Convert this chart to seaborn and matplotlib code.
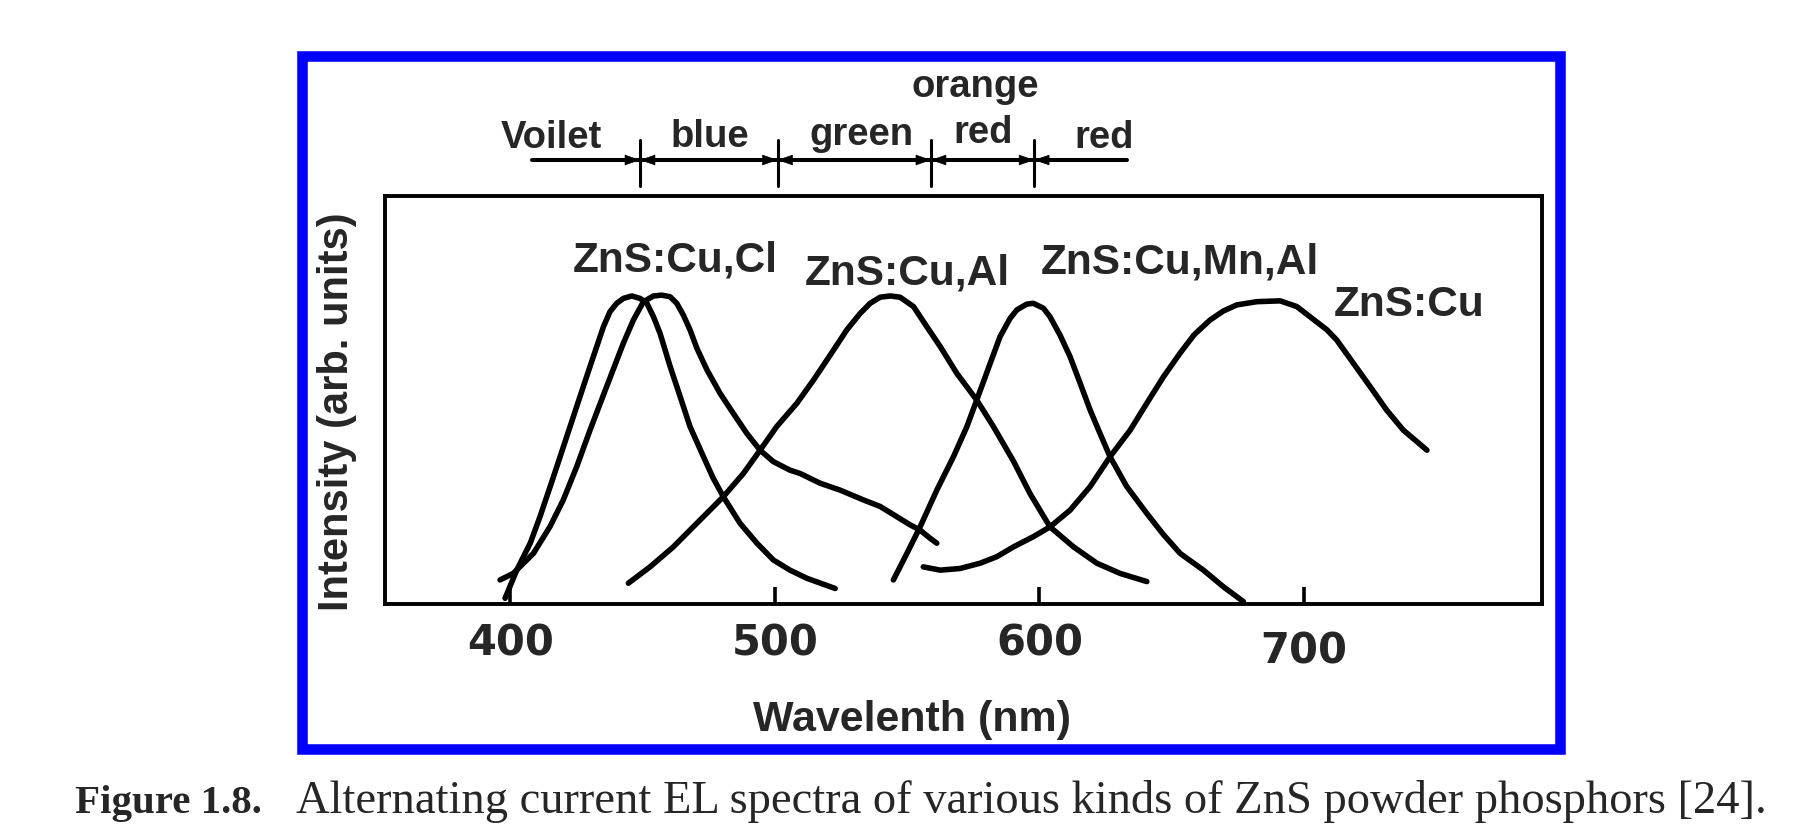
import numpy as np
import pandas as pd
import matplotlib
matplotlib.use("Agg")
import matplotlib.pyplot as plt
import matplotlib.patches as mpatches
import matplotlib.transforms as mtransforms
import seaborn as sns

# ---------------- data ----------------
wl_cucl_a = [398.0, 402.4, 407.5, 411.2, 416.3, 421.3, 426.3, 430.1, 435.2, 437.7, 440.2,
             442.7, 445.9, 449.0, 451.6, 454.1, 456.6, 460.4, 464.2, 467.9, 473.0, 476.7,
             480.5, 486.8, 493.2, 499.4, 505.7, 512.1, 522.8]
int_cucl_a = [0.014, 0.083, 0.149, 0.214, 0.312, 0.410, 0.508, 0.582, 0.680, 0.717, 0.737,
              0.749, 0.755, 0.749, 0.737, 0.704, 0.663, 0.582, 0.508, 0.435, 0.361, 0.308,
              0.263, 0.198, 0.149, 0.108, 0.083, 0.063, 0.038]

wl_cucl_b = [396.1, 401.1, 408.7, 415.0, 420.0, 425.1, 430.1, 436.4, 442.7, 446.5, 450.3,
             454.1, 457.2, 460.4, 462.9, 465.4, 467.9, 470.5, 474.3, 479.3, 484.3, 489.4,
             494.4, 499.4, 505.7, 509.5, 517.1, 524.7, 533.5, 539.8, 546.1, 551.1, 554.9,
             558.7, 561.2]
int_cucl_b = [0.059, 0.075, 0.124, 0.190, 0.255, 0.337, 0.426, 0.533, 0.639, 0.696, 0.741,
              0.755, 0.757, 0.753, 0.737, 0.708, 0.672, 0.627, 0.574, 0.516, 0.467, 0.418,
              0.377, 0.349, 0.328, 0.320, 0.296, 0.279, 0.255, 0.239, 0.214, 0.194, 0.181,
              0.161, 0.149]

wl_cual = [444.6, 452.8, 461.6, 470.5, 480.5, 488.1, 494.4, 500.7, 508.3, 514.6, 520.9,
           527.2, 532.2, 536.0, 539.8, 543.6, 547.3, 552.4, 557.4, 562.5, 568.8, 576.3,
           582.6, 590.2, 596.5, 604.0, 612.9, 621.7, 630.5, 640.6]
int_cual = [0.051, 0.091, 0.140, 0.198, 0.263, 0.320, 0.377, 0.435, 0.492, 0.549, 0.610,
            0.672, 0.712, 0.737, 0.752, 0.755, 0.752, 0.729, 0.680, 0.631, 0.565, 0.500,
            0.435, 0.350, 0.270, 0.189, 0.140, 0.100, 0.075, 0.055]

wl_cumnal = [544.8, 549.9, 554.9, 561.2, 567.5, 572.6, 576.3, 581.4, 585.1, 588.9, 591.5,
             595.2, 597.7, 601.5, 604.0, 607.8, 611.6, 615.4, 619.2, 622.9, 626.7, 633.0,
             640.6, 646.9, 653.2, 662.0, 669.6, 677.1]
int_cumnal = [0.059, 0.124, 0.189, 0.279, 0.361, 0.435, 0.500, 0.590, 0.655, 0.700, 0.721,
              0.735, 0.737, 0.725, 0.704, 0.659, 0.606, 0.541, 0.475, 0.418, 0.361, 0.288,
              0.222, 0.170, 0.124, 0.083, 0.042, 0.006]

wl_cu = [556.1, 562.5, 570.0, 577.6, 583.9, 590.2, 597.7, 604.0, 611.6, 619.2, 626.7,
         634.3, 640.6, 646.9, 653.2, 658.5, 664.5, 669.5, 674.6, 682.2, 691.0, 697.3,
         702.3, 708.7, 712.4, 718.7, 725.0, 731.3, 737.6, 742.7, 746.5]
int_cu = [0.091, 0.083, 0.087, 0.100, 0.116, 0.140, 0.165, 0.189, 0.230, 0.288, 0.361,
          0.426, 0.492, 0.557, 0.615, 0.660, 0.696, 0.718, 0.733, 0.741, 0.743, 0.729,
          0.704, 0.672, 0.647, 0.590, 0.533, 0.475, 0.426, 0.398, 0.377]

series_names = ["ZnS:Cu,Cl (a)", "ZnS:Cu,Cl (b)", "ZnS:Cu,Al", "ZnS:Cu,Mn,Al", "ZnS:Cu"]

curve_labels = ["ZnS:Cu,Cl", "ZnS:Cu,Al", "ZnS:Cu,Mn,Al", "ZnS:Cu"]
curve_label_wl = [462.2, 550.0, 653.2, 739.8]
curve_label_int = [0.816, 0.782, 0.811, 0.706]

x_ticks = [400, 500, 600, 700]
x_ticklabels = ["400", "500", "600", "700"]

band_edges = [449, 501, 559, 598]
band_span = [408, 633]
band_texts = ["Voilet", "blue", "green", "orange", "red", "red"]
band_text_wl = [415.4, 475.5, 532.6, 575.7, 578.7, 624.5]
band_text_y = [1.1176, 1.1201, 1.125, 1.2426, 1.1299, 1.1176]

x_label = "Wavelenth (nm)"
y_label = "Intensity (arb. units)"
caption_bold = "Figure 1.8."
caption_text = "Alternating current EL spectra of various kinds of ZnS powder phosphors [24]."

# ---------------- build long-form table ----------------
frames = []
for name, wl, it in zip(series_names,
                        [wl_cucl_a, wl_cucl_b, wl_cual, wl_cumnal, wl_cu],
                        [int_cucl_a, int_cucl_b, int_cual, int_cumnal, int_cu]):
    frames.append(pd.DataFrame({"wavelength": wl, "intensity": it, "sample": name}))
df = pd.concat(frames, ignore_index=True)

# ---------------- figure ----------------
sns.set_style("white")
plt.rcParams["font.family"] = ["Liberation Sans", "DejaVu Sans"]

W, H = 1814, 839
fig = plt.figure(figsize=(W / 100, H / 100), dpi=100)
ax = fig.add_axes([385 / W, 1 - 604 / H, (1542 - 385) / W, (604 - 196) / H])

sns.lineplot(data=df, x="wavelength", y="intensity", hue="sample",
             palette={n: "black" for n in series_names}, estimator=None, sort=False,
             legend=False, lw=4.0, ax=ax, solid_capstyle="round", solid_joinstyle="round")

ax.set_xlim(352.6, 790)
ax.set_ylim(0, 1)
ax.set_xlabel("")
ax.set_ylabel("")
ax.set_yticks([])
ax.set_xticks(x_ticks)
ax.set_xticklabels(x_ticklabels, fontfamily="DejaVu Sans", fontweight="bold", fontsize=30)
ax.tick_params(axis="x", direction="in", length=12, width=2.6, color="black",
               pad=13, bottom=True, top=False)
for sp in ax.spines.values():
    sp.set_color("black")
    sp.set_linewidth(2.8)
# the 700 label sits a little lower in the reference
lab700 = ax.get_xticklabels()[3]
lab700.set_transform(lab700.get_transform() +
                     mtransforms.ScaledTranslation(0, -8 / 100, fig.dpi_scale_trans))

# curve labels
for txt, xw, yi in zip(curve_labels, curve_label_wl, curve_label_int):
    ax.text(xw, yi, txt, ha="center", va="baseline", fontsize=30.5, fontweight="bold")

# colour band above the plot
trans = mtransforms.blended_transform_factory(ax.transData, ax.transAxes)
yline = 1.0882
ax.plot(band_span, [yline, yline], color="black", lw=2.9, transform=trans, clip_on=False)
for e in band_edges:
    ax.plot([e, e], [1.0245, 1.1373], color="black", lw=2.2, transform=trans, clip_on=False)
    for side in (-1, 1):
        ax.annotate("", xy=(e, yline), xytext=(e + side * 7, yline),
                    xycoords=trans, textcoords=trans,
                    arrowprops=dict(arrowstyle="-|>,head_length=1.0,head_width=0.35",
                                    color="black", lw=0.5, shrinkA=0, shrinkB=0,
                                    mutation_scale=10),
                    annotation_clip=False)
for txt, xw, yy in zip(band_texts, band_text_wl, band_text_y):
    ax.text(xw, yy, txt, transform=trans, ha="center", va="baseline",
            fontsize=27.5, fontweight="bold", clip_on=False)

# axis titles
fig.text(912 / W, 1 - 720 / H, x_label, ha="center", va="center",
         fontsize=31, fontweight="bold")
fig.text(337 / W, 1 - 412 / H, y_label, ha="center", va="center", rotation=90,
         fontsize=30, fontweight="bold")

# blue frame
frame = mpatches.Rectangle((302 / W, 1 - 748.5 / H), (1560 - 302) / W, (748.5 - 55.5) / H,
                           transform=fig.transFigure, fill=False, edgecolor="#0000ff",
                           lw=7.6, joinstyle="miter")
fig.add_artist(frame)

# caption
fig.text(75 / W, 1 - 813 / H, caption_bold, ha="left", va="baseline",
         fontfamily=["Liberation Serif", "DejaVu Serif"], fontweight="bold", fontsize=29.5)
fig.text(296 / W, 1 - 813 / H, caption_text, ha="left", va="baseline",
         fontfamily=["Liberation Serif", "DejaVu Serif"], fontsize=33.5)

fig.savefig("out.png", dpi=100, facecolor="white")
